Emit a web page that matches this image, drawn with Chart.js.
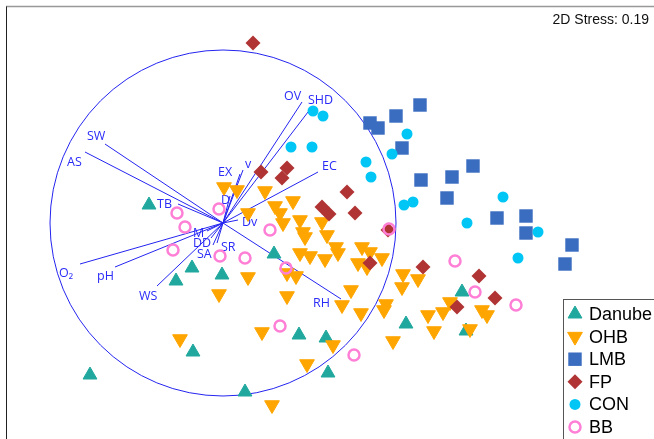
<!DOCTYPE html>
<html>
<head>
<meta charset="utf-8">
<script src="https://cdn.jsdelivr.net/npm/chart.js@4.4.1/dist/chart.umd.min.js"></script>
<style>
  body { margin: 0; background: #fff; }
  #wrap { width: 654px; height: 439px; }
</style>
</head>
<body>
<div id="wrap"><canvas id="nmdsChart" width="654" height="439"></canvas></div>
<script>
// NMDS scores (MDS1, MDS2) per group
const danube = [[-0.74,0.18],[-0.31,-0.45],[-0.47,-0.58],[-0.01,-0.52],[0.51,-0.31],[-0.30,-1.29],[-1.33,-1.52],
  [0.22,-1.69],[0.76,-1.12],[1.03,-1.15],[1.05,-1.50],[1.83,-1.01],[2.39,-0.69],[2.43,-1.08]];
const ohb = [[0.01,0.36],[0.14,0.33],[0.42,0.32],[0.70,0.22],[0.52,0.17],[0.57,0.10],[0.25,0.10],[0.60,0.00],
  [0.77,0.03],[0.99,0.01],[0.80,-0.09],[0.82,-0.14],[1.04,-0.12],[1.13,-0.24],[1.15,-0.30],[0.77,-0.30],
  [0.87,-0.33],[1.02,-0.36],[1.39,-0.24],[1.47,-0.29],[1.59,-0.35],[1.35,-0.40],[1.44,-0.44],[0.64,-0.50],
  [0.73,-0.53],[0.25,-0.54],[-0.04,-0.71],[0.64,-0.73],[1.28,-0.67],[1.19,-0.82],[1.38,-0.90],[1.63,-0.81],
  [1.61,-0.87],[1.80,-0.51],[1.95,-0.56],[1.79,-0.64],[2.05,-0.92],[2.20,-0.89],[2.27,-0.79],[2.59,-0.87],
  [2.64,-0.92],[2.11,-1.08],[2.47,-1.06],[1.70,-1.18],[0.39,-1.09],[1.10,-1.22],[0.84,-1.41],[0.49,-1.82],
  [-0.43,-1.16]];
const lmb = [[1.47,1.00],[1.55,0.95],[1.73,1.07],[1.97,1.18],[1.79,0.75],[2.50,0.57],[2.29,0.46],[1.98,0.43],
  [2.24,0.25],[2.74,0.05],[3.03,0.07],[3.03,-0.10],[3.49,-0.22],[3.42,-0.41]];
const fp = [[0.30,1.80],[0.38,0.51],[0.64,0.55],[0.59,0.45],[1.24,0.31],[0.99,0.16],[1.06,0.09],[1.32,0.10],
  [1.65,-0.07],[1.47,-0.40],[2.00,-0.44],[2.56,-0.53],[2.72,-0.75],[2.34,-0.84]];
const con = [[0.90,1.12],[1.00,1.07],[0.68,0.76],[0.89,0.76],[1.84,0.89],[1.69,0.69],[1.43,0.61],[1.48,0.46],
  [1.81,0.18],[1.90,0.21],[2.80,0.26],[2.44,0.00],[3.15,-0.09],[2.95,-0.35]];
const bb = [[-0.46,0.10],[-0.04,0.14],[-0.38,-0.04],[-0.50,-0.27],[-0.03,-0.33],[0.22,-0.35],[0.47,-0.07],
  [0.63,-0.45],[0.57,-1.03],[1.66,-0.06],[2.32,-0.38],[2.52,-0.69],[2.93,-0.82],[1.31,-1.32]];

// environmental vectors: name, end point, label anchor
const vecNames = ['OV','SHD','SW','AS','EX','v','EC','D','TB','Dv','M','DD','SA','SR','O\u2082','pH','WS','RH'];
const vecEnds = [[0.79,1.21],[0.85,1.11],[-1.18,0.79],[-1.38,0.71],[0.17,0.49],[0.20,0.53],[0.95,0.51],
  [0.07,0.27],[-0.45,0.19],[0.15,0.03],[-0.16,-0.08],[-0.12,-0.15],[-0.10,-0.22],[-0.06,-0.20],
  [-1.43,-0.41],[-1.08,-0.44],[-0.66,-0.63],[1.18,-0.76]];
const vecLabels = [[0.61,1.27],[0.85,1.23],[-1.36,0.87],[-1.56,0.61],[-0.05,0.51],[0.22,0.59],[0.99,0.57],
  [-0.02,0.23],[-0.66,0.19],[0.19,0.01],[-0.30,-0.10],[-0.30,-0.20],[-0.26,-0.31],[-0.02,-0.24],
  [-1.64,-0.50],[-1.26,-0.53],[-0.84,-0.73],[0.90,-0.80]];
const circleRadius = 1.73;
const stressText = '2D Stress: 0.19';

const groupNames = ['Danube','OHB','LMB','FP','CON','BB'];
const groupData = [danube, ohb, lmb, fp, con, bb];

const estilos = [
  { pointStyle: 'triangle', rotation: 0, radius: 8, bg: '#20a89e', border: '#20a89e', bw: 1 },
  { pointStyle: 'triangle', rotation: 180, radius: 8.5, bg: '#ffa500', border: '#ffa500', bw: 1 },
  { pointStyle: 'rect', rotation: 0, radius: 9.5, bg: '#3a6cbf', border: '#3a6cbf', bw: 0 },
  { pointStyle: 'rectRot', rotation: 0, radius: 7.5, bg: '#b03434', border: '#b03434', bw: 0 },
  { pointStyle: 'circle', rotation: 0, radius: 5.5, bg: '#00c6f6', border: '#00c6f6', bw: 0 },
  { pointStyle: 'circle', rotation: 0, radius: 5.5, bg: 'rgba(0,0,0,0)', border: '#ff7fd6', bw: 2.5 }
];

const datasets = groupNames.map((name, i) => ({
  label: name,
  data: groupData[i].map(p => ({ x: p[0], y: p[1] })),
  pointStyle: estilos[i].pointStyle,
  rotation: estilos[i].rotation,
  pointRadius: estilos[i].radius,
  backgroundColor: estilos[i].bg,
  borderColor: estilos[i].border,
  borderWidth: estilos[i].bw,
  order: groupNames.length - i
}));

// circle + vectors, under the points
const vectoresPlugin = {
  id: 'vectores',
  beforeDatasetsDraw(chart) {
    const { ctx, scales: { x, y } } = chart;
    const cx = x.getPixelForValue(0), cy = y.getPixelForValue(0);
    const r = x.getPixelForValue(circleRadius) - cx;
    ctx.save();
    ctx.strokeStyle = '#2424f0';
    ctx.lineWidth = 1;
    ctx.beginPath();
    ctx.arc(cx, cy, r, 0, Math.PI * 2);
    ctx.stroke();
    vecEnds.forEach(e => {
      ctx.beginPath();
      ctx.moveTo(cx, cy);
      ctx.lineTo(x.getPixelForValue(e[0]), y.getPixelForValue(e[1]));
      ctx.stroke();
    });
    ctx.fillStyle = '#2b2bf8';
    ctx.font = '12.5px "Open Sans", "DejaVu Sans", sans-serif';
    ctx.textAlign = 'left';
    ctx.textBaseline = 'middle';
    vecNames.forEach((n, i) => {
      ctx.fillText(n, x.getPixelForValue(vecLabels[i][0]), y.getPixelForValue(vecLabels[i][1]));
    });
    ctx.restore();
  }
};

// frame, stress note and legend
const marcoPlugin = {
  id: 'marco',
  afterDraw(chart) {
    const { ctx } = chart;
    ctx.save();
    ctx.strokeStyle = '#999';
    ctx.lineWidth = 1.5;
    ctx.beginPath();
    ctx.moveTo(6, 6.5);
    ctx.lineTo(654, 6.5);
    ctx.stroke();
    ctx.strokeStyle = '#222';
    ctx.lineWidth = 1;
    ctx.beginPath();
    ctx.moveTo(6.5, 439);
    ctx.lineTo(6.5, 6.5);
    ctx.stroke();

    ctx.fillStyle = '#111';
    ctx.font = '14px "Liberation Sans", Arial, sans-serif';
    ctx.textAlign = 'right';
    ctx.textBaseline = 'middle';
    ctx.fillText(stressText, 649, 20);

    // legend box
    ctx.fillStyle = '#fff';
    ctx.fillRect(563.5, 299.5, 100, 150);
    ctx.strokeStyle = '#555';
    ctx.lineWidth = 1;
    ctx.strokeRect(563.5, 299.5, 100, 150);
    ctx.font = '18px "Liberation Sans", Arial, sans-serif';
    ctx.textAlign = 'left';
    groupNames.forEach((n, i) => {
      const yy = 314 + i * 22.6;
      const s = estilos[i];
      ctx.fillStyle = s.bg;
      ctx.strokeStyle = s.border;
      ctx.lineWidth = s.bw;
      Chart.helpers.drawPoint(ctx, { pointStyle: s.pointStyle, rotation: s.rotation, radius: s.radius, borderWidth: s.bw }, 575, yy);
      ctx.fillStyle = '#000';
      ctx.fillText(n, 589, yy + 1);
    });
    ctx.restore();
  }
};

new Chart(document.getElementById('nmdsChart').getContext('2d'), {
  type: 'scatter',
  data: { datasets },
  options: {
    responsive: false,
    animation: false,
    layout: { padding: 0, autoPadding: false },
    scales: {
      x: { type: 'linear', min: -2.23, max: 4.31, display: false },
      y: { type: 'linear', min: -2.16, max: 2.23, display: false }
    },
    plugins: { legend: { display: false }, tooltip: { enabled: false } }
  },
  plugins: [vectoresPlugin, marcoPlugin]
});
</script>
</body>
</html>
